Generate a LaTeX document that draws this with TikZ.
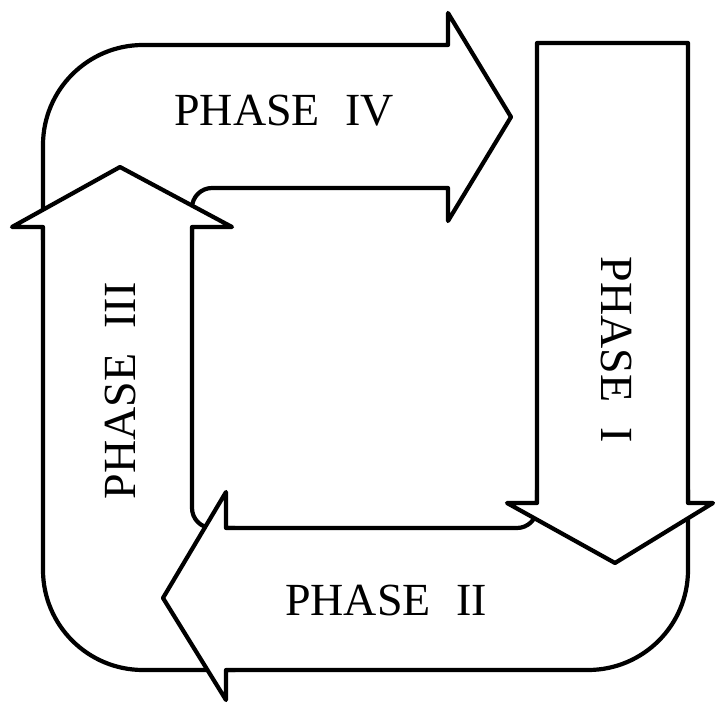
\documentclass[tikz,border=0pt]{standalone}
\usepackage{fontspec}
\setmainfont{Liberation Serif}
\begin{document}
\begin{tikzpicture}[x=1pt,y=-1pt,
  phasearrow/.style={draw=black,fill=white,line width=4.2pt,line join=round},
  phaselabel/.style={font=\fontsize{46}{46}\selectfont,inner sep=0pt,anchor=center}]
\useasboundingbox (0,0) rectangle (715,703);
% Phase IV
\path[phasearrow] (43,240) -- (43,145) .. controls (43,89.8) and (87.8,45) .. (143,45)
  -- (448,45) -- (448,13) -- (511,117) -- (448,221) -- (448,188) -- (212,188)
  .. controls (201,188) and (192,197) .. (192,208) -- (192,240) -- cycle;
% Phase III
\path[phasearrow] (192,227) -- (232,227) -- (120,167) -- (12,227) -- (43,227) -- (43,570)
  .. controls (43,625.2) and (87.8,670) .. (143,670) -- (235,670) -- (235,528) -- (212,528)
  .. controls (201,528) and (192,519) .. (192,508) -- cycle;
% Phase II
\path[phasearrow] (163,598) -- (226,492) -- (226,528) -- (517,528)
  .. controls (528,528) and (537,519) .. (537,508) -- (537,490) -- (688,490) -- (688,570)
  .. controls (688,625.2) and (643.2,670) .. (588,670) -- (226,670) -- (226,700) -- cycle;
% Phase I
\path[phasearrow] (537,43) -- (688,43) -- (688,503) -- (713,503) -- (615,563)
  -- (507,503) -- (537,503) -- cycle;
% labels
\node[phaselabel] (p4) at (284,111) {PHASE\hspace{0.55em}IV};
\node[phaselabel,rotate=90] (p3) at (120,391) {PHASE\hspace{0.55em}III};
\node[phaselabel,rotate=-90] (p1) at (616,350) {PHASE\hspace{0.55em}I};
\node[phaselabel] (p2) at (386,600) {PHASE\hspace{0.55em}II};
\end{tikzpicture}
\end{document}
